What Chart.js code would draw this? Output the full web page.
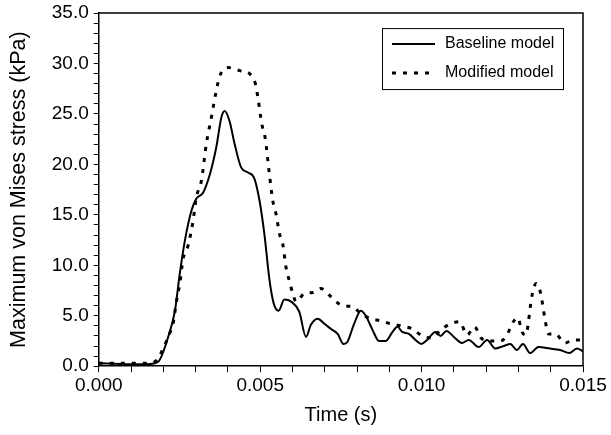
<!DOCTYPE html>
<html>
<head>
<meta charset="utf-8">
<script src="https://cdn.jsdelivr.net/npm/chart.js@4"></script>
<style>
  html, body { margin: 0; padding: 0; background: #fff; }
  #wrap { width: 611px; height: 435px; }
</style>
</head>
<body>
<div id="wrap"><canvas id="chart"></canvas></div>
<script>
// Baseline model (solid)
const timeBase = [0, 0.0005, 0.001, 0.0015, 0.00184, 0.00215, 0.00236, 0.00251, 0.00267, 0.00287, 0.00302, 0.00323,
  0.00344, 0.00364, 0.0038, 0.0039, 0.00405, 0.00421, 0.00441, 0.00462, 0.00482, 0.00498, 0.00513, 0.00529,
  0.00542, 0.00557, 0.00575, 0.00596, 0.00621, 0.00642, 0.00657, 0.00678, 0.00699, 0.00719, 0.0074, 0.00758,
  0.0077, 0.00791, 0.00812, 0.00827, 0.00848, 0.00868, 0.00889, 0.0091, 0.00925, 0.0094, 0.00961, 0.00981,
  0.00999, 0.01017, 0.01043, 0.01059, 0.01077, 0.011, 0.01125, 0.01146, 0.01177, 0.01203, 0.01228, 0.01254,
  0.01275, 0.01295, 0.01314, 0.01336, 0.01362, 0.01398, 0.01429, 0.01458, 0.01481, 0.015];
const stressBase = [0.3, 0.25, 0.2, 0.2, 0.45, 2.9, 5.5, 9.2, 12.5, 15.4, 16.6, 17.2,
  19.0, 21.7, 24.7, 25.3, 24.3, 22.0, 19.7, 19.2, 18.6, 16.4, 13.1, 8.5,
  6.2, 5.5, 6.6, 6.4, 5.4, 2.9, 4.1, 4.7, 4.2, 3.7, 3.2, 2.2,
  2.4, 4.2, 5.5, 5.0, 3.6, 2.5, 2.5, 3.4, 3.9, 3.4, 3.2, 2.6,
  2.2, 2.6, 3.4, 3.0, 3.5, 2.9, 2.3, 2.6, 1.9, 2.6, 1.75, 2.0,
  2.2, 1.6, 2.2, 1.3, 1.9, 1.75, 1.6, 1.3, 1.75, 1.5];

// Modified model (dotted)
const timeMod = [0, 0.0005, 0.001, 0.0015, 0.0018, 0.002, 0.0022, 0.0023, 0.00241, 0.00251, 0.00261, 0.00277,
  0.00292, 0.00302, 0.00318, 0.00333, 0.00349, 0.00364, 0.00374, 0.004, 0.00436, 0.00467, 0.00485, 0.00493,
  0.00505, 0.00515, 0.00529, 0.00539, 0.00549, 0.0056, 0.0057, 0.0058, 0.0059, 0.00601, 0.00611, 0.00637,
  0.00663, 0.00688, 0.00719, 0.00755, 0.00786, 0.00812, 0.00843, 0.00873, 0.00904, 0.00935, 0.00971, 0.01002,
  0.01033, 0.01059, 0.0109, 0.01118, 0.01141, 0.01164, 0.01184, 0.01213, 0.01244, 0.01265, 0.0128, 0.01298,
  0.01311, 0.01324, 0.01331, 0.01336, 0.01342, 0.01355, 0.01369, 0.01376, 0.01383, 0.01393, 0.01414, 0.01444,
  0.0147, 0.015];
const stressMod = [0.3, 0.3, 0.3, 0.3, 0.6, 1.8, 3.3, 4.2, 6.5, 8.2, 10.6, 12.0,
  14.4, 16.7, 18.4, 22.0, 24.7, 27.3, 28.7, 29.6, 29.3, 29.0, 28.0, 26.6,
  24.0, 22.7, 18.9, 16.4, 15.1, 13.1, 12.1, 9.8, 8.5, 7.2, 6.4, 7.2,
  7.3, 7.7, 6.9, 6.0, 5.9, 5.2, 4.7, 4.5, 4.2, 4.0, 3.7, 3.0,
  2.8, 3.6, 4.2, 4.4, 3.1, 3.9, 2.8, 2.5, 2.5, 3.1, 4.2, 4.8,
  3.4, 3.1, 4.4, 5.7, 7.0, 8.2, 7.2, 5.9, 4.5, 3.2, 3.2, 2.3,
  2.6, 2.6];

const seriesNames = ['Baseline model', 'Modified model'];

const FONT = "'Liberation Sans', Arial, sans-serif";

function toPoints(xs, ys) {
  return xs.map((x, i) => ({ x: x, y: ys[i] }));
}

// frame on top/right and boxed legend
const framePlugin = {
  id: 'frame',
  afterDraw(chart) {
    const ctx = chart.ctx;
    const a = chart.chartArea;
    ctx.save();
    ctx.strokeStyle = '#000';
    ctx.lineWidth = 1.5;
    ctx.beginPath();
    ctx.moveTo(a.left, a.top);
    ctx.lineTo(a.right, a.top);
    ctx.lineTo(a.right, a.bottom);
    ctx.stroke();

    // legend
    const bx = a.right - 201, by = a.top + 15, bw = 181, bh = 61;
    ctx.lineWidth = 1;
    ctx.strokeRect(bx + 0.5, by + 0.5, bw, bh);
    ctx.font = '16px ' + FONT;
    ctx.fillStyle = '#000';
    ctx.textBaseline = 'middle';
    chart.data.datasets.forEach((ds, i) => {
      const y = by + 16 + i * 29;
      ctx.lineWidth = ds.borderWidth;
      ctx.setLineDash(ds.borderDash || []);
      ctx.beginPath();
      ctx.moveTo(bx + 10, y);
      ctx.lineTo(bx + 53, y);
      ctx.stroke();
      ctx.setLineDash([]);
      ctx.fillText(ds.label, bx + 63, y);
    });
    ctx.restore();
  }
};

new Chart(document.getElementById('chart'), {
  type: 'line',
  data: {
    datasets: [
      {
        label: seriesNames[0],
        data: toPoints(timeBase, stressBase),
        borderColor: '#000',
        borderWidth: 2,
        pointRadius: 0,
        tension: 0.4,
        cubicInterpolationMode: 'monotone',
        fill: false
      },
      {
        label: seriesNames[1],
        data: toPoints(timeMod, stressMod),
        borderColor: '#000',
        borderWidth: 3,
        borderDash: [4, 7],
        pointRadius: 0,
        tension: 0.4,
        cubicInterpolationMode: 'monotone',
        fill: false
      }
    ]
  },
  options: {
    responsive: true,
    maintainAspectRatio: false,
    animation: false,
    layout: { padding: { top: 12, right: 28, left: 4, bottom: 8 } },
    plugins: {
      legend: { display: false },
      tooltip: { enabled: false }
    },
    scales: {
      x: {
        type: 'linear',
        min: 0,
        max: 0.015,
        ticks: {
          stepSize: 0.001,
          autoSkip: false,
          maxRotation: 0,
          color: '#000',
          font: { family: FONT, size: 19 },
          padding: 2,
          callback: (v) => {
            const r = v / 0.005;
            return Math.abs(r - Math.round(r)) < 1e-6 ? v.toFixed(3) : '';
          }
        },
        grid: { drawOnChartArea: false, drawTicks: true, tickLength: 6, tickColor: '#000', tickWidth: 1 },
        border: { display: true, color: '#000', width: 1.5 },
        title: { display: true, text: 'Time (s)', color: '#000', font: { family: FONT, size: 20 }, padding: { top: 4, bottom: 0 } }
      },
      y: {
        min: 0,
        max: 35,
        ticks: {
          stepSize: 1,
          autoSkip: false,
          color: '#000',
          font: { family: FONT, size: 19, lineHeight: 0.85 },
          padding: 5,
          callback: (v) => (v % 5 === 0 ? v.toFixed(1) : '')
        },
        grid: { drawOnChartArea: false, drawTicks: true, tickLength: 5, tickColor: '#000', tickWidth: 1 },
        border: { display: true, color: '#000', width: 1.5 },
        title: { display: true, text: 'Maximum von Mises stress (kPa)', color: '#000', font: { family: FONT, size: 21.5 }, padding: { top: 2, bottom: 15 } }
      }
    }
  },
  plugins: [framePlugin]
});
</script>
</body>
</html>
